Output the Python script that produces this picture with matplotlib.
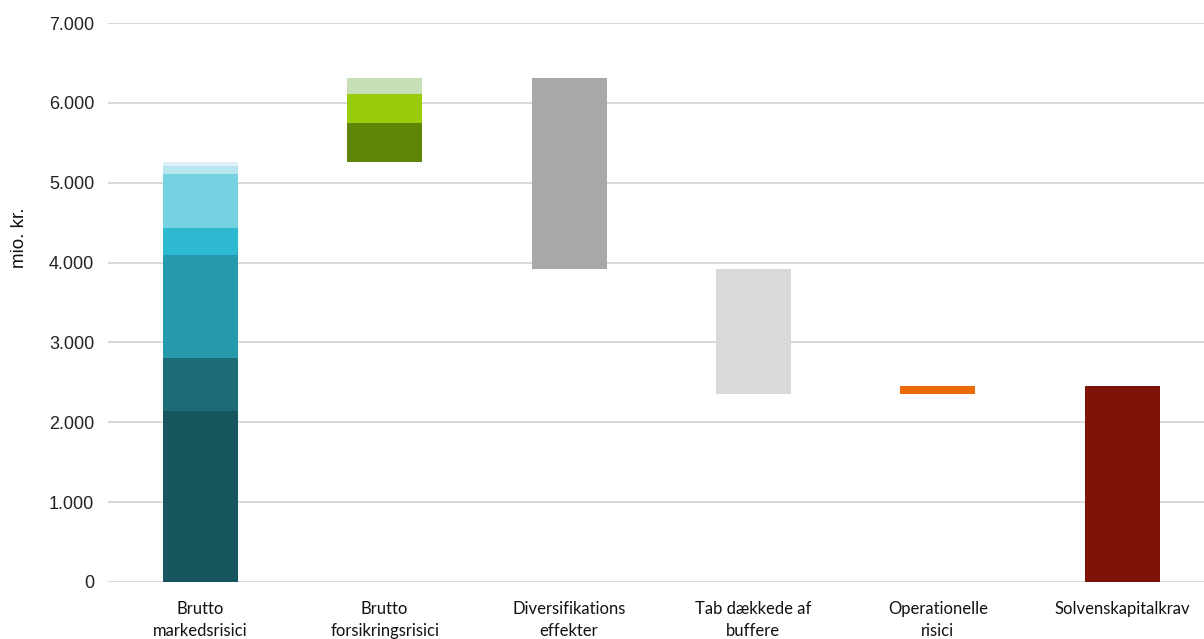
import matplotlib
matplotlib.use("Agg")
import matplotlib.pyplot as plt

categories = ["Brutto\nmarkedsrisici", "Brutto\nforsikringsrisici", "Diversifikations\neffekter",
              "Tab dækkede af\nbuffere", "Operationelle\nrisici", "Solvenskapitalkrav"]

# markedsrisici stacked pieces (mio. kr.)
market_parts = [2140, 665, 1290, 335, 675, 110, 40]
market_colors = ["#17555F", "#1D6B76", "#269AAC", "#2DB9D1", "#74D2E1", "#B8E6EE", "#DDEFF4"]

# forsikringsrisici stacked pieces
insurance_parts = [490, 365, 200]
insurance_colors = ["#5E8508", "#99CC0A", "#C6DFB6"]

diversification = -2390
buffer_loss = -1560
operational = 95
scr = 2455

fig = plt.figure(figsize=(12.04, 6.39), dpi=100)
ax = fig.add_axes([108 / 1204, 57 / 639, 1106.4 / 1204, 559 / 639])

x = list(range(len(categories)))
w = 75 / 184.4

# bar 1
base = 0
for v, c in zip(market_parts, market_colors):
    ax.bar(x[0], v, bottom=base, width=w, color=c, zorder=3)
    base += v
market_total = base

# bar 2
base = market_total
for v, c in zip(insurance_parts, insurance_colors):
    ax.bar(x[1], v, bottom=base, width=w, color=c, zorder=3)
    base += v
gross_total = base

# bar 3-5 floating
lvl = gross_total
ax.bar(x[2], diversification, bottom=lvl, width=w, color="#A8A8A8", zorder=3)
lvl += diversification
ax.bar(x[3], buffer_loss, bottom=lvl, width=w, color="#D9D9D9", zorder=3)
lvl += buffer_loss
ax.bar(x[4], operational, bottom=lvl, width=w, color="#EC6A08", zorder=3)
ax.bar(x[5], scr, width=w, color="#7E1409", zorder=3)

ax.set_xlim(-0.5, len(categories) - 0.5)
ax.set_ylim(0, 7000)
ax.set_yticks(range(0, 7001, 1000))
ax.set_yticklabels([f"{v:,}".replace(",", ".") for v in range(0, 7001, 1000)],
                   fontfamily="Liberation Sans", fontsize=13, color="#222222")
ax.set_xticks(x)
ax.set_xticklabels(categories, fontfamily="Lato", fontsize=12, color="#111111",
                   linespacing=1.45)
ax.tick_params(axis="both", length=0)
ax.tick_params(axis="y", pad=10)
ax.tick_params(axis="x", pad=14)
ax.grid(axis="y", color="#D6D6D6", linewidth=1.3, zorder=0)
for s in ax.spines.values():
    s.set_visible(False)

fig.text(19 / 1204, 1 - 238 / 639, "mio. kr.", rotation=90, ha="center", va="center",
         fontfamily="Liberation Sans", fontsize=13.5, color="#111111")

fig.savefig("out.png", dpi=100)
